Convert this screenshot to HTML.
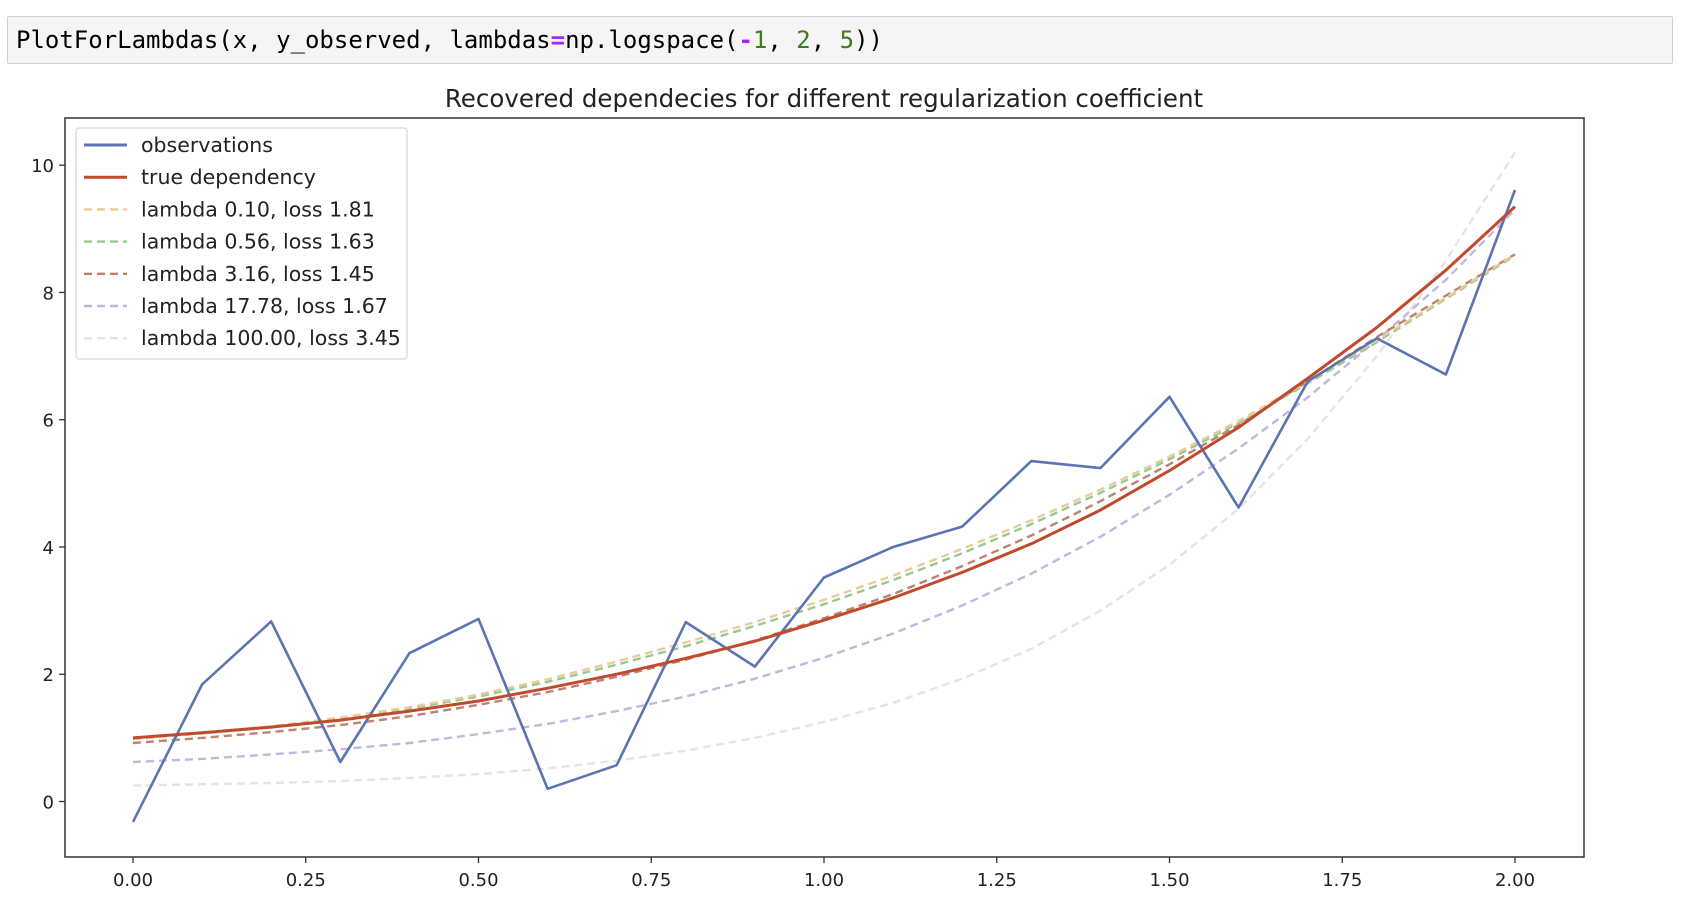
<!DOCTYPE html>
<html><head><meta charset="utf-8"><style>
body{margin:0;background:#fff;width:1682px;height:908px;overflow:hidden;position:relative;font-family:"DejaVu Sans","Liberation Sans",sans-serif}
#code{position:absolute;left:7px;top:16px;width:1666px;height:48px;background:#f5f5f5;border:1px solid #cfcfcf;border-radius:2px;box-sizing:border-box;font-family:"DejaVu Sans Mono","Liberation Mono",monospace;font-size:24px;line-height:46px;padding-left:8px;color:#000;white-space:pre}
svg{position:absolute;left:0;top:0}
</style></head><body>
<div id="code">PlotForLambdas(x, y_observed, lambdas<span style="color:#aa22ff;font-weight:bold">=</span>np.logspace(<span style="color:#aa22ff;font-weight:bold">-</span><span style="color:#3a7d1a">1</span>, <span style="color:#3a7d1a">2</span>, <span style="color:#3a7d1a">5</span>))</div>
<svg id="chart" width="1682" height="908"></svg>
<script>
const xs=[0,0.1,0.2,0.3,0.4,0.5,0.6,0.7,0.8,0.9,1.0,1.1,1.2,1.3,1.4,1.5,1.6,1.7,1.8,1.9,2.0];
const observations=[-0.32,1.84,2.83,0.62,2.33,2.87,0.2,0.57,2.82,2.12,3.52,4.0,4.32,5.35,5.24,6.36,4.62,6.6,7.28,6.71,9.61];
const trueDep=[1.0,1.08,1.17,1.28,1.42,1.58,1.78,2.0,2.25,2.52,2.85,3.2,3.6,4.05,4.58,5.2,5.88,6.65,7.45,8.35,9.35];
const lam010=[0.98,1.07,1.18,1.32,1.48,1.68,1.92,2.2,2.5,2.82,3.17,3.55,3.97,4.42,4.9,5.42,5.98,6.6,7.25,7.92,8.6];
const lam056=[0.98,1.07,1.17,1.3,1.46,1.65,1.88,2.15,2.44,2.76,3.1,3.48,3.9,4.36,4.85,5.38,5.95,6.57,7.22,7.9,8.58];
const lam316=[0.92,1.0,1.09,1.2,1.34,1.52,1.72,1.96,2.23,2.53,2.88,3.26,3.7,4.18,4.72,5.3,5.92,6.6,7.3,7.95,8.6];
const lam1778=[0.62,0.67,0.74,0.82,0.92,1.06,1.22,1.42,1.65,1.93,2.26,2.64,3.08,3.58,4.16,4.82,5.55,6.35,7.25,8.2,9.3];
const lam100=[0.25,0.27,0.29,0.32,0.37,0.43,0.52,0.64,0.8,1.0,1.25,1.55,1.93,2.4,3.0,3.72,4.6,5.7,7.0,8.5,10.2];
const xTicks=[0,0.25,0.5,0.75,1.0,1.25,1.5,1.75,2.0];
const xTickLabels=["0.00","0.25","0.50","0.75","1.00","1.25","1.50","1.75","2.00"];
const yTicks=[0,2,4,6,8,10];
const yTickLabels=["0","2","4","6","8","10"];
const legendLabels=["observations","true dependency","lambda 0.10, loss 1.81","lambda 0.56, loss 1.63","lambda 3.16, loss 1.45","lambda 17.78, loss 1.67","lambda 100.00, loss 3.45"];

const NS="http://www.w3.org/2000/svg";
const svg=document.getElementById('chart');
const L=65,R=1584,T=118,B=857;
const xS=v=>133+(v-0)*(1515-133)/2;
const yS=v=>801.5-v*(801.5-165.2)/10;
function mk(tag,attrs,parent){const e=document.createElementNS(NS,tag);for(const k in attrs)e.setAttribute(k,attrs[k]);(parent||svg).appendChild(e);return e;}

const title=mk('text',{x:824,y:107,'text-anchor':'middle','font-size':24.5,fill:'#222'});
title.textContent="Recovered dependecies for different regularization coefficient";



xTicks.forEach((v,i)=>{
  const t=mk('line',{x1:xS(v),x2:xS(v),y1:B,y2:B+6,stroke:'#333','stroke-width':1.3});
  
  
  const l=mk('text',{x:xS(v),y:B+29,'text-anchor':'middle','font-size':18,fill:'#222'});
  l.textContent=xTickLabels[i];
  
  
});
yTicks.forEach((v,i)=>{
  const t=mk('line',{x1:L-6,x2:L,y1:yS(v),y2:yS(v),stroke:'#333','stroke-width':1.3});
  
  
  const l=mk('text',{x:L-11,y:yS(v)+7,'text-anchor':'end','font-size':18,fill:'#222'});
  l.textContent=yTickLabels[i];
  
  
});

const series=[
 {d:lam100,c:'#e4e4e4',dash:true,n:'lambda-100-line'},
 {d:lam1778,c:'#c5b6de',dash:true,n:'lambda-17-78-line'},
 {d:lam316,c:'#bd8272',dash:true,n:'lambda-3-16-line'},
 {d:lam056,c:'#98c98e',dash:true,n:'lambda-0-56-line'},
 {d:lam010,c:'#ebcb98',dash:true,n:'lambda-0-10-line'},
 {d:observations,c:'#5b74b2',dash:false,n:'observations-line',w:2.6},
 {d:trueDep,c:'#bf4a2c',dash:false,n:'true-dependency-line',w:3}
];
series.forEach(s=>{
  const pts=s.d.map((v,i)=>xS(xs[i]).toFixed(1)+','+yS(v).toFixed(1)).join(' ');
  const p=mk('polyline',{points:pts,fill:'none',stroke:s.c,'stroke-width':s.w||2.4,'stroke-dasharray':s.dash?'8,5':'none','stroke-linejoin':'round'});
  
  
});

const frame=mk('rect',{x:L,y:T,width:R-L,height:B-T,fill:'none',stroke:'#333','stroke-width':1.5});



const lg=mk('g',{});


mk('rect',{x:76,y:128,width:331,height:231,rx:3,fill:'#fff','fill-opacity':0.85,stroke:'#d6d6d6','stroke-width':1.2},lg);
const legColors=['#5b74b2','#bf4a2c','#ebcb98','#98c98e','#bd8272','#c5b6de','#e4e4e4'];
legendLabels.forEach((lab,i)=>{
  const y=145+i*32.2;
  const ln=mk('line',{x1:84,x2:127,y1:y,y2:y,stroke:legColors[i],'stroke-width':i<2?3:2.4,'stroke-dasharray':i<2?'none':'8,5'},lg);
  
  
  const t=mk('text',{x:141,y:y+7,'font-size':20.5,fill:'#222'},lg);
  t.textContent=lab;
  
  
});
</script>
</body></html>
